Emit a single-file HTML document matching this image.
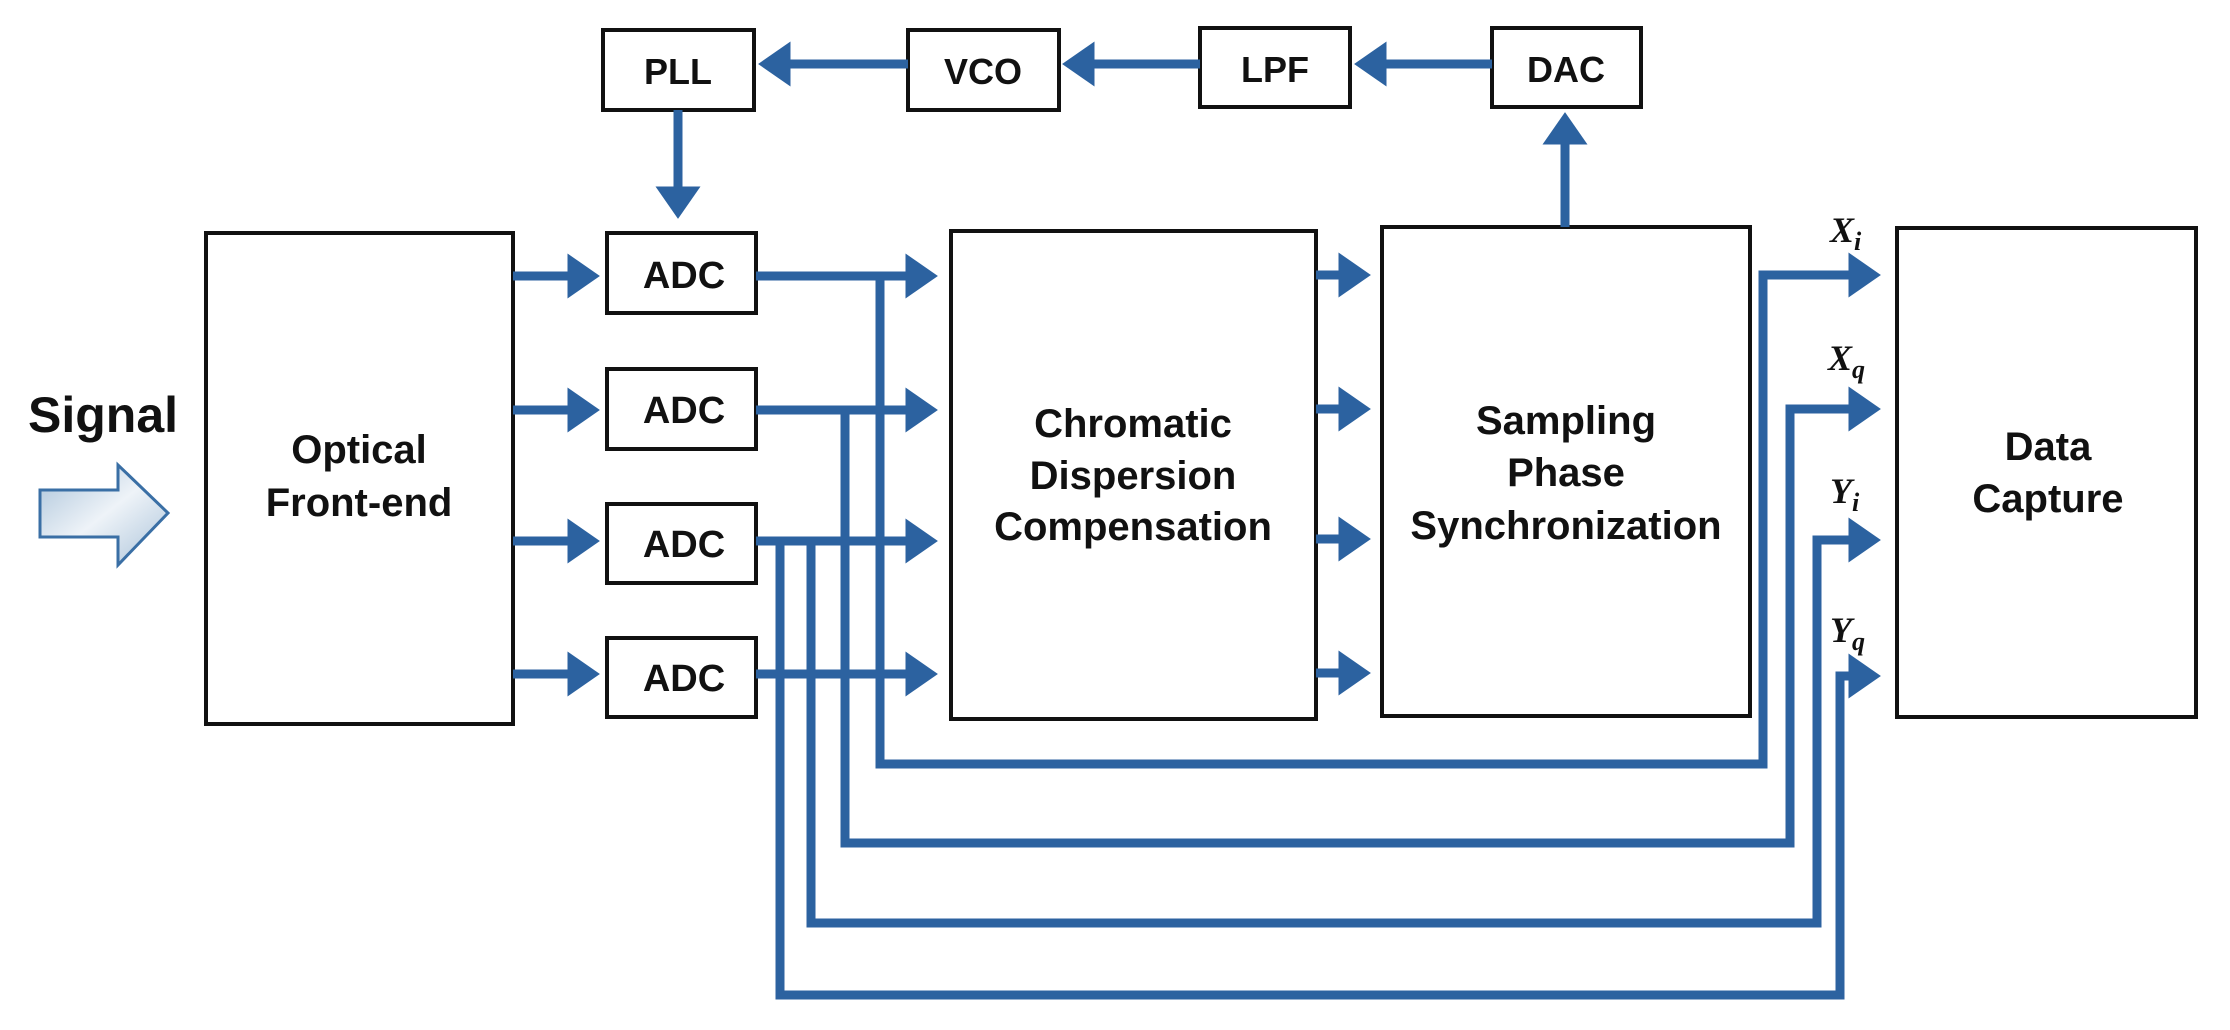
<!DOCTYPE html>
<html><head><meta charset="utf-8"><style>
html,body{margin:0;padding:0;background:#fff;}
svg{display:block;}
text{font-family:"Liberation Sans",sans-serif;font-weight:bold;fill:#111;}
.b{fill:#fff;stroke:#111;stroke-width:4;}
.l{stroke:#2c62a0;stroke-width:9;fill:none;}
.h{fill:#2c62a0;}
.m{font-family:"Liberation Serif",serif;font-style:italic;font-weight:bold;}
</style></head><body>
<svg width="2230" height="1030" viewBox="0 0 2230 1030" xmlns="http://www.w3.org/2000/svg">
<defs>
<linearGradient id="g" x1="0" y1="0" x2="1" y2="1">
<stop offset="0" stop-color="#a9c2d9"/><stop offset="0.5" stop-color="#eef3f8"/><stop offset="1" stop-color="#a9c2d9"/>
</linearGradient>
<marker id="a" markerWidth="4" markerHeight="5" refX="0.5" refY="2.5" orient="auto" markerUnits="strokeWidth"><path d="M0,0 L3.6,2.5 L0,5 z" fill="#2c62a0"/></marker>
</defs>

<!-- Signal -->
<text x="28" y="432" font-size="50">Signal</text>
<path d="M40,490 L118,490 L118,465 L168,513 L118,565 L118,537 L40,537 Z" fill="url(#g)" stroke="#3a6fa5" stroke-width="3"/>

<!-- boxes -->
<rect class="b" x="603" y="30" width="151" height="80"/>
<rect class="b" x="908" y="30" width="151" height="80"/>
<rect class="b" x="1200" y="28" width="150" height="79"/>
<rect class="b" x="1492" y="28" width="149" height="79"/>
<text x="678" y="84" font-size="36" text-anchor="middle">PLL</text>
<text x="983" y="84" font-size="36" text-anchor="middle">VCO</text>
<text x="1275" y="82" font-size="36" text-anchor="middle">LPF</text>
<text x="1566" y="82" font-size="36" text-anchor="middle">DAC</text>

<rect class="b" x="206" y="233" width="307" height="491"/>
<text x="359" y="463" font-size="40" text-anchor="middle">Optical</text>
<text x="359" y="516" font-size="40" text-anchor="middle">Front-end</text>

<rect class="b" x="607" y="233" width="149" height="80"/>
<rect class="b" x="607" y="369" width="149" height="80"/>
<rect class="b" x="607" y="504" width="149" height="79"/>
<rect class="b" x="607" y="638" width="149" height="79"/>
<text x="684" y="288" font-size="38" text-anchor="middle">ADC</text>
<text x="684" y="423" font-size="38" text-anchor="middle">ADC</text>
<text x="684" y="557" font-size="38" text-anchor="middle">ADC</text>
<text x="684" y="691" font-size="38" text-anchor="middle">ADC</text>

<rect class="b" x="951" y="231" width="365" height="488"/>
<text x="1133" y="437" font-size="40" text-anchor="middle">Chromatic</text>
<text x="1133" y="489" font-size="40" text-anchor="middle">Dispersion</text>
<text x="1133" y="540" font-size="40" text-anchor="middle">Compensation</text>

<rect class="b" x="1382" y="227" width="368" height="489"/>
<text x="1566" y="434" font-size="40" text-anchor="middle">Sampling</text>
<text x="1566" y="486" font-size="40" text-anchor="middle">Phase</text>
<text x="1566" y="539" font-size="40" text-anchor="middle">Synchronization</text>

<rect class="b" x="1897" y="228" width="299" height="489"/>
<text x="2048" y="460" font-size="40" text-anchor="middle">Data</text>
<text x="2048" y="512" font-size="40" text-anchor="middle">Capture</text>

<!-- feedback loop -->
<line class="l" x1="1492" y1="64" x2="1382" y2="64" marker-end="url(#a)"/>
<line class="l" x1="1200" y1="64" x2="1090" y2="64" marker-end="url(#a)"/>
<line class="l" x1="908" y1="64" x2="786" y2="64" marker-end="url(#a)"/>
<line class="l" x1="678" y1="110" x2="678" y2="191" marker-end="url(#a)"/>
<line class="l" x1="1565" y1="227" x2="1565" y2="140" marker-end="url(#a)"/>

<!-- FE to ADC -->
<line class="l" x1="513" y1="276" x2="572" y2="276" marker-end="url(#a)"/>
<line class="l" x1="513" y1="410" x2="572" y2="410" marker-end="url(#a)"/>
<line class="l" x1="513" y1="541" x2="572" y2="541" marker-end="url(#a)"/>
<line class="l" x1="513" y1="674" x2="572" y2="674" marker-end="url(#a)"/>

<!-- ADC to CDC -->
<line class="l" x1="756" y1="276" x2="910" y2="276" marker-end="url(#a)"/>
<line class="l" x1="756" y1="410" x2="910" y2="410" marker-end="url(#a)"/>
<line class="l" x1="756" y1="541" x2="910" y2="541" marker-end="url(#a)"/>
<line class="l" x1="756" y1="674" x2="910" y2="674" marker-end="url(#a)"/>

<!-- CDC to SPS -->
<line class="l" x1="1316" y1="275" x2="1343" y2="275" marker-end="url(#a)"/>
<line class="l" x1="1316" y1="409" x2="1343" y2="409" marker-end="url(#a)"/>
<line class="l" x1="1316" y1="539" x2="1343" y2="539" marker-end="url(#a)"/>
<line class="l" x1="1316" y1="673" x2="1343" y2="673" marker-end="url(#a)"/>

<!-- bypass routes -->
<polyline class="l" points="880,276 880,764 1763,764 1763,275 1853,275" marker-end="url(#a)"/>
<polyline class="l" points="845,410 845,843 1790,843 1790,409 1853,409" marker-end="url(#a)"/>
<polyline class="l" points="811,541 811,923 1817,923 1817,540 1853,540" marker-end="url(#a)"/>
<polyline class="l" points="780,541 780,995 1840,995 1840,676 1853,676" marker-end="url(#a)"/>

<!-- labels -->
<text class="m" x="1830" y="242" font-size="36">X<tspan font-size="26" dy="8">i</tspan></text>
<text class="m" x="1828" y="370" font-size="36">X<tspan font-size="26" dy="8">q</tspan></text>
<text class="m" x="1830" y="503" font-size="36">Y<tspan font-size="26" dy="8">i</tspan></text>
<text class="m" x="1830" y="642" font-size="36">Y<tspan font-size="26" dy="8">q</tspan></text>
</svg>
</body></html>
